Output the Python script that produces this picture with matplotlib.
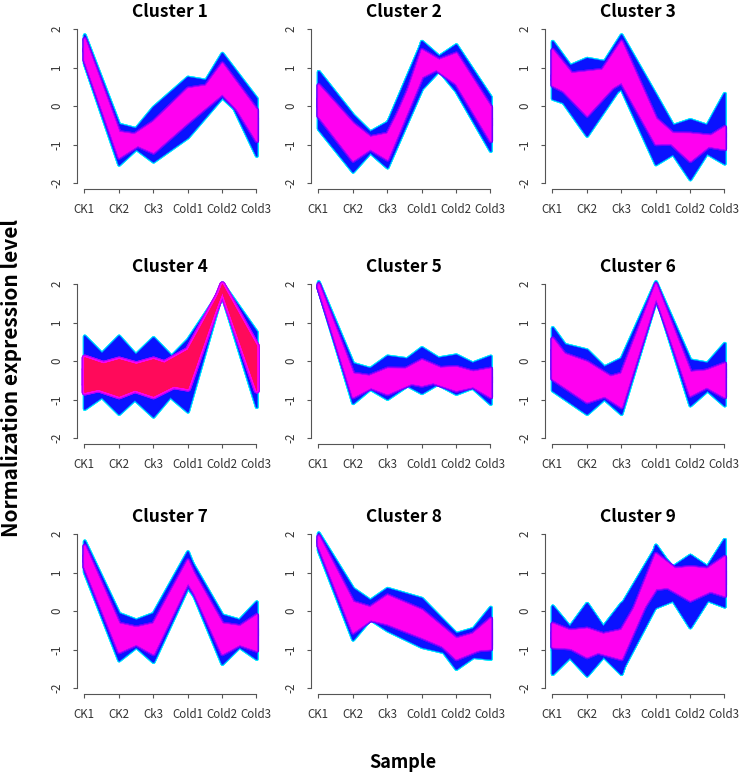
"""
Mfuzz-style soft clustering profiles: 9 clusters, 6 samples.
Each cluster is drawn as nested bands built from a few profile
lines read off the reference (outer = low membership, core = high).
"""

import itertools

import matplotlib
matplotlib.use("Agg")
import matplotlib.pyplot as plt


# ---------------------------------------------------------------------------
# data
# ---------------------------------------------------------------------------

SAMPLES = ["CK1", "CK2", "Ck3", "Cold1", "Cold2", "Cold3"]
TITLES = ["Cluster 1", "Cluster 2", "Cluster 3",
          "Cluster 4", "Cluster 5", "Cluster 6",
          "Cluster 7", "Cluster 8", "Cluster 9"]

# outer profiles (edge of the band) and core profiles (high membership)
c1_outer = [[1.85, -0.47, -0.70, -0.10, 1.37, 0.20],
            [1.40, -1.11, -0.03, 0.75, 0.60, -0.30],
            [1.11, -1.51, -0.69, -0.20, 0.60, -1.28],
            [1.50, -0.77, -1.43, -0.80, 0.24, -0.60]]
c1_core = [[1.75, -0.67, -0.80, -0.10, 1.11, -0.10],
           [1.45, -1.00, -0.40, 0.46, 0.60, -0.30],
           [1.20, -1.32, -0.75, -0.20, 0.55, -0.89],
           [1.50, -0.80, -1.19, -0.41, 0.33, -0.60]]

c2_outer = [[0.90, -0.23, -1.11, 1.68, 0.90, -0.20],
            [0.30, -0.92, -0.42, 0.99, 1.59, 0.24],
            [0.20, -1.00, -0.45, 1.65, 0.90, -0.30],
            [-0.58, -1.69, -0.69, 1.48, 0.40, -1.15],
            [-0.20, -0.80, -1.58, 0.46, 1.42, -0.60]]
c2_core = [[0.55, -0.45, -1.15, 1.46, 0.94, -0.30],
           [0.20, -0.89, -0.71, 1.03, 1.37, -0.02],
           [-0.25, -1.40, -0.80, 1.23, 0.59, -0.89],
           [0.00, -0.83, -1.37, 0.77, 1.23, -0.50]]

c3_outer = [[1.68, 0.45, 1.85, 0.29, -1.29, 0.33],
            [0.86, 1.24, 1.08, -0.65, -0.35, -0.65],
            [0.20, -0.10, 0.46, -1.50, -0.96, -1.48],
            [0.50, -0.76, 0.55, -0.57, -1.89, -0.49]]
c3_core = [[1.46, 0.35, 1.68, -0.32, -1.10, -0.54],
           [0.80, 0.90, 1.00, -0.70, -0.71, -0.80],
           [0.55, 0.10, 0.63, -0.97, -0.95, -1.10],
           [0.70, -0.23, 0.75, -0.60, -1.41, -0.70]]

c4_outer = [[0.65, -0.25, 0.61, -0.31, 2.03, 0.76],
            [-0.25, 0.65, -0.35, 0.56, 1.90, 0.30],
            [-1.23, -0.61, -1.43, -0.37, 1.71, -1.18],
            [-0.48, -1.36, -0.54, -1.30, 1.80, -0.60]]
c4_core = [[0.10, -0.20, 0.05, -0.25, 2.00, 0.40],
           [-0.20, 0.05, -0.20, 0.30, 1.92, 0.10],
           [-0.80, -0.60, -0.90, -0.45, 1.80, -0.75],
           [-0.60, -0.90, -0.55, -0.70, 1.85, -0.50]]

c5_outer = [[2.06, -0.06, -0.32, 0.35, -0.21, 0.13],
            [2.00, -0.51, 0.13, 0.01, 0.16, -0.28],
            [1.88, -1.08, -0.34, -0.82, -0.30, -1.10],
            [1.95, -0.45, -0.97, -0.37, -0.84, -0.50]]
c5_core = [[2.00, -0.32, -0.45, 0.03, -0.35, -0.19],
           [1.95, -0.55, -0.19, -0.20, -0.15, -0.40],
           [1.90, -0.92, -0.45, -0.62, -0.40, -0.92],
           [1.93, -0.50, -0.84, -0.45, -0.75, -0.55]]

c6_outer = [[0.87, -0.37, 0.07, 2.06, 0.03, -0.13],
            [0.51, 0.29, -0.59, 1.90, -0.56, 0.46],
            [-0.75, -1.36, -0.58, 1.70, -1.14, -0.36],
            [-0.40, -0.58, -1.36, 1.58, -0.36, -1.14]]
c6_core = [[0.59, -0.58, -0.32, 2.00, -0.28, -0.20],
           [0.30, -0.02, -0.58, 1.85, -0.40, -0.06],
           [-0.45, -1.05, -0.75, 1.70, -0.88, -0.42],
           [-0.20, -0.60, -1.18, 1.65, -0.42, -0.92]]

c7_outer = [[1.82, -0.06, -0.40, 1.45, -0.10, -0.36],
            [1.50, -0.40, -0.06, 1.54, -0.70, 0.24],
            [1.02, -1.27, -0.57, 0.80, -1.36, -0.48],
            [1.30, -0.53, -1.31, 0.63, -0.61, -1.23]]
c7_core = [[1.70, -0.32, -0.52, 1.25, -0.32, -0.45],
           [1.45, -0.52, -0.32, 1.32, -0.70, -0.10],
           [1.15, -1.05, -0.65, 0.85, -1.10, -0.62],
           [1.30, -0.60, -1.10, 0.75, -0.70, -1.01]]

c8_outer = [[2.03, 0.59, -0.03, 0.00, -1.00, 0.10],
            [1.90, -0.03, 0.59, 0.33, -0.58, -0.32],
            [1.58, -0.73, 0.33, -0.30, -1.49, -0.87],
            [1.75, 0.09, -0.49, -0.92, -1.13, -1.23]]
c8_core = [[1.95, 0.24, -0.04, -0.20, -0.95, -0.19],
           [1.85, -0.20, 0.41, 0.03, -0.71, -0.45],
           [1.70, -0.54, 0.10, -0.40, -1.23, -0.87],
           [1.80, -0.10, -0.32, -0.67, -1.05, -0.97]]

c9_outer = [[0.13, -0.95, 0.20, 0.85, 1.45, 0.85],
            [-1.02, 0.20, -1.10, 1.71, 0.45, 1.86],
            [-0.80, -1.10, 0.15, 1.65, 0.60, 1.20],
            [-1.62, -0.74, -1.62, 0.99, -0.41, 0.99],
            [-0.70, -1.66, -0.62, 0.11, 0.47, 0.13],
            [-0.90, -0.75, -1.55, 0.15, 0.50, 0.30]]
c9_core = [[-0.32, -0.68, -0.49, 1.05, 1.15, 1.05],
           [-0.55, -0.45, -0.75, 1.49, 0.80, 1.41],
           [-0.92, -0.98, -1.23, 0.80, 0.29, 0.70],
           [-0.70, -1.18, -0.80, 0.59, 0.70, 0.41]]

OUTER = [c1_outer, c2_outer, c3_outer, c4_outer, c5_outer,
         c6_outer, c7_outer, c8_outer, c9_outer]
CORE = [c1_core, c2_core, c3_core, c4_core, c5_core,
        c6_core, c7_core, c8_core, c9_core]


# ---------------------------------------------------------------------------
# style
# ---------------------------------------------------------------------------

CYAN = "#00e8ff"
AZURE = "#0070ff"
BLUE = "#0a12ff"
PURPLE = "#6a00ff"
VIOLET = "#b000ff"
MAGENTA = "#ff00f0"
RED = "#ff0a5a"
AXIS = "#555555"
TEXT = "#333333"

FONT = ["Noto Sans CJK SC", "DejaVu Sans"]
plt.rcParams["font.family"] = FONT

W, H = 747, 773
COL_LEFT = [77.4, 311.4, 545.4]     # px, left edge of plot region
ROW_TOP = [22.8, 277.8, 527.8]      # px, top edge of plot region
PANEL_W = 185.8
PANEL_H = 166.5


def draw_band(ax, x, profiles, face, rings):
    """Union of pairwise fills = envelope of the profile lines.

    rings : list of (colour, linewidth) strokes drawn under the fill,
            widest first, giving a soft colour edge.
    """
    pairs = list(itertools.combinations(profiles, 2))
    for colour, lw in rings:
        for p, q in pairs:
            ax.fill_between(x, p, q, facecolor=colour, edgecolor=colour,
                            linewidth=lw, joinstyle="round")
    for p, q in pairs:
        ax.fill_between(x, p, q, facecolor=face, edgecolor=face,
                        linewidth=0.3)


def style_axes(ax):
    ax.set_xlim(0.8, 6.2)
    ax.set_ylim(-2.16, 2.16)
    for side in ("top", "right"):
        ax.spines[side].set_visible(False)
    ax.spines["left"].set_bounds(-2, 2)
    ax.spines["bottom"].set_bounds(1, 6)
    for side in ("left", "bottom"):
        ax.spines[side].set_color(AXIS)
        ax.spines[side].set_linewidth(0.8)
    ax.set_xticks(range(1, 7))
    ax.set_xticklabels(SAMPLES)
    ax.set_yticks([-2, -1, 0, 1, 2])
    ax.set_yticklabels(["-2", "-1", "0", "1", "2"])
    ax.tick_params(direction="out", length=3, width=0.8, color=AXIS,
                   labelcolor=TEXT, labelsize=8.3, pad=7)
    for lab in ax.get_yticklabels():
        lab.set_rotation(90)
        lab.set_va("center")
    ax.set_facecolor("none")


fig = plt.figure(figsize=(W / 100, H / 100), dpi=100)
x = list(range(1, 7))

for k in range(9):
    r, c = divmod(k, 3)
    left = COL_LEFT[c] / W
    bottom = 1 - (ROW_TOP[r] + PANEL_H) / H
    ax = fig.add_axes([left, bottom, PANEL_W / W, PANEL_H / H])

    draw_band(ax, x, OUTER[k], BLUE, [(CYAN, 2.8), (AZURE, 1.4)])
    if k == 3:
        draw_band(ax, x, CORE[k], RED, [(VIOLET, 4.4), (MAGENTA, 2.6)])
    else:
        draw_band(ax, x, CORE[k], MAGENTA, [(PURPLE, 3.2), (VIOLET, 1.6)])

    style_axes(ax)
    fig.text((COL_LEFT[c] + PANEL_W / 2) / W, 1 - (ROW_TOP[r] - 11) / H,
             TITLES[k], ha="center", va="center",
             fontsize=12.5, fontweight="bold")

fig.text(12 / W, 1 - 378 / H, "Normalization expression level",
         rotation=90, ha="center", va="center",
         fontsize=15, fontweight="bold")
fig.text(403 / W, 1 - 763 / H, "Sample", ha="center", va="center",
         fontsize=13, fontweight="bold")

fig.savefig("out.png", dpi=100)
